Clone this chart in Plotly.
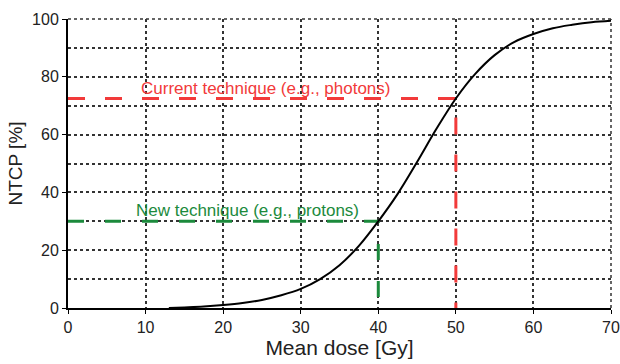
import plotly.graph_objects as go

dose = [13, 15, 17.5, 20, 22.5, 25, 27.5, 30, 32.5, 35, 37.5, 40, 42.5, 45, 47.5, 50, 52.5, 55, 57.5, 60, 62.5, 65, 67.5, 70]
ntcp = [0.0, 0.2, 0.5, 1.0, 1.7, 2.8, 4.4, 6.6, 10.0, 14.8, 21.5, 30.0, 39.5, 50.5, 62.0, 72.5, 81.0, 87.5, 92.0, 94.8, 96.8, 98.0, 98.9, 99.4]

current_dose = 50
current_ntcp = 72.5
new_dose = 40
new_ntcp = 30

current_label = "Current technique (e.g., photons)"
new_label = "New technique (e.g., protons)"

RED = "#f23a3a"
GREEN = "#1b8a3c"
FONT = "Liberation Sans, Arial, sans-serif"
GRID = "#333"

fig = go.Figure()

fig.add_trace(go.Scatter(x=[0, current_dose, current_dose], y=[current_ntcp, current_ntcp, 0],
                         mode="lines", line=dict(color=RED, width=3, dash="17px,20px"),
                         hoverinfo="skip"))
fig.add_trace(go.Scatter(x=[0, new_dose, new_dose], y=[new_ntcp, new_ntcp, 0],
                         mode="lines", line=dict(color=GREEN, width=3, dash="16px,21px"),
                         hoverinfo="skip"))
fig.add_trace(go.Scatter(x=dose, y=ntcp, mode="lines", line=dict(color="black", width=2, shape="spline")))

fig.add_annotation(x=25.4, y=76.1, text=current_label, showarrow=False,
                   font=dict(family=FONT, size=17, color=RED))
fig.add_annotation(x=23.1, y=33.9, text=new_label, showarrow=False,
                   font=dict(family=FONT, size=17, color=GREEN))

# dotted frame on top and right edges of the plot area
fig.add_shape(type="line", xref="paper", yref="paper", x0=0, x1=1, y0=1, y1=1,
              line=dict(color=GRID, width=1.5, dash="dot"), layer="below")
fig.add_shape(type="line", xref="paper", yref="paper", x0=1, x1=1, y0=0, y1=1,
              line=dict(color=GRID, width=1.5, dash="dot"), layer="below")

fig.update_layout(
    width=620, height=364,
    margin=dict(l=68, r=9, t=19, b=56),
    plot_bgcolor="white", paper_bgcolor="white",
    showlegend=False,
    font=dict(family=FONT, size=16, color="#222"),
    xaxis=dict(range=[0, 70], dtick=10, tick0=0, showgrid=True, gridcolor=GRID, griddash="dot",
               gridwidth=1.5, showline=True, linecolor="black", linewidth=2, ticks="outside",
               ticklen=4, tickcolor="black", zeroline=False, automargin=False,
               tickfont=dict(size=16),
               title=dict(text="Mean dose [Gy]", font=dict(size=21, color="#222"), standoff=2)),
    yaxis=dict(range=[0, 100], dtick=20, tick0=0, showgrid=True, gridcolor=GRID, griddash="dot",
               gridwidth=1.5, showline=True, linecolor="black", linewidth=2, ticks="outside",
               ticklen=4, tickcolor="black", zeroline=False, automargin=False,
               tickfont=dict(size=16),
               minor=dict(dtick=10, showgrid=True, gridcolor=GRID, griddash="dot", gridwidth=1.5),
               title=dict(text="NTCP [%]", font=dict(size=19, color="#222"), standoff=4)),
)

fig.write_html("out.html", config={"displayModeBar": False},
               post_script="document.body.style.margin='0';document.body.style.overflow='hidden';")
